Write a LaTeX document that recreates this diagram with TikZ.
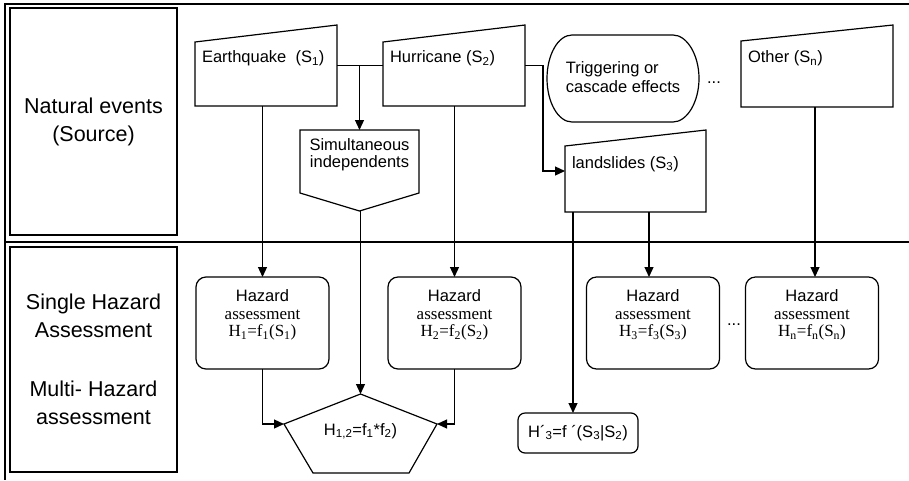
\documentclass[tikz,border=0pt]{standalone}
\usepackage{fontspec}
\setmainfont{Liberation Sans}
\newfontfamily\serifont{Liberation Serif}
\usetikzlibrary{arrows.meta,calc}
\newcommand\mkmanual[2]{\draw[shp] (#1.south west) -- (#1.south east) -- (#1.north east) -- ([yshift=-#2pt]#1.north west) -- cycle;}
\tikzset{
  frame/.style={line width=1.4pt},
  shp/.style={line width=1.2pt},
  ghost/.style={draw=none,inner sep=0pt,outer sep=0pt},
  conn/.style={line width=1.2pt},
  arr/.style={conn,-{Triangle[length=10pt,width=9pt]}},
  labelbox/.style={draw,line width=1.3pt,inner sep=0pt,outer sep=0pt,align=center,
    font=\fontsize{21.5}{28}\selectfont},
  txt/.style={inner sep=0pt,outer sep=0pt,font=\fontsize{16.5}{17}\selectfont},
  hbox/.style={draw,line width=1.2pt,rounded corners=10pt,minimum width=133pt,minimum height=92pt,inner sep=0pt,outer sep=0pt},
  htext/.style={inner sep=0pt,outer sep=0pt,align=center,font=\fontsize{16.5}{17.5}\selectfont},
}
\newcommand\sfn{\serifont\fontsize{17}{17.5}\selectfont}
\begin{document}
\begin{tikzpicture}[x=1pt,y=-1pt]
\useasboundingbox (0,0) rectangle (909,480);
% outer frame
\coordinate (ftl) at (5,4);
\coordinate (ftr) at (909,4);
\coordinate (fbl) at (5,480);
\coordinate (fml) at (5,242);
\coordinate (fmr) at (909,242);
\draw[frame] (ftr) -- (ftl) -- (fbl);
\draw[frame] (fml) -- (fmr);
% left labels
\node[labelbox,minimum width=167pt,minimum height=227pt] (lb1) at (93.5,121.5) {Natural events\\(Source)};
\node[labelbox,minimum width=167pt,minimum height=225pt] (lb2) at (93.5,359.5) {Single Hazard\\Assessment\\[31pt]Multi- Hazard\\assessment};
% sources
\node[ghost,minimum width=142pt,minimum height=81pt] (eq) at (266,65.5) {};
\mkmanual{eq}{17}
\node[txt,anchor=base west] (eqt) at (202,62.5) {Earthquake\ \ (S\textsubscript{1})};
\node[ghost,minimum width=142pt,minimum height=81pt] (hu) at (454,65.5) {};
\mkmanual{hu}{17}
\node[txt,anchor=base west] (hut) at (390,62.5) {Hurricane (S\textsubscript{2})};
\node[ghost,minimum width=152pt,minimum height=82pt] (ot) at (817,66) {};
\mkmanual{ot}{16}
\node[txt,anchor=base west] (ott) at (748,62.5) {Other (S\textsubscript{n})};
\node[ghost,minimum width=141pt,minimum height=82pt] (ls) at (635.5,171) {};
\mkmanual{ls}{16}
\node[txt,anchor=base west] (lst) at (572,168) {landslides (S\textsubscript{3})};
% simultaneous
\node[ghost,minimum width=119pt,minimum height=81pt] (sim) at (359.5,170.5) {};
\draw[shp] (sim.north west) -- (sim.north east) -- ([yshift=18pt]sim.south east) -- (sim.south) -- ([yshift=18pt]sim.south west) -- cycle;
\node[txt,align=center] (simt) at (359.5,155) {Simultaneous\\independents};
% triggering (terminator shape)
\draw[shp] (572,35) -- (673,35) .. controls (687,35) and (699,55) .. (699,78.5)
  .. controls (699,102) and (687,122) .. (673,122) -- (572,122)
  .. controls (558,122) and (547,102) .. (547,78.5)
  .. controls (547,55) and (558,35) .. (572,35) -- cycle;
\node[txt,align=left,font=\fontsize{16.5}{18.5}\selectfont] (trig) at (623,77) {Triggering or\\cascade effects};
\node[txt,anchor=base] (dots1) at (714,83) {...};
% hazard boxes
\node[hbox] (h1) at (262.5,323) {};
\node[hbox] (h2) at (454.5,323) {};
\node[hbox] (h3) at (653,323) {};
\node[hbox] (hn) at (812,323) {};
\node[htext] (h1t) at ($(h1)+(0,-8)$) {Hazard\\{\sfn assessment}\\{\sfn H\textsubscript{1}=f\textsubscript{1}(S\textsubscript{1})}};
\node[htext] (h2t) at ($(h2)+(0,-8)$) {Hazard\\{\sfn assessment}\\{\sfn H\textsubscript{2}=f\textsubscript{2}(S\textsubscript{2})}};
\node[htext] (h3t) at ($(h3)+(0,-8)$) {Hazard\\{\sfn assessment}\\{\sfn H\textsubscript{3}=f\textsubscript{3}(S\textsubscript{3})}};
\node[htext] (hnt) at ($(hn)+(0,-8)$) {Hazard\\{\sfn assessment}\\{\sfn H\textsubscript{n}=f\textsubscript{n}(S\textsubscript{n})}};
\node[txt,anchor=base] (dots2) at (734,325) {...};
% pentagon
\node[ghost,minimum width=153pt,minimum height=79pt] (pent) at (360.5,433.5) {};
\coordinate (pl) at ($(pent.north west)+(0,30)$);
\coordinate (pr) at ($(pent.north east)+(0,30)$);
\coordinate (pbl) at ($(pent.south west)+(29,0)$);
\coordinate (pbr) at ($(pent.south east)+(-28,0)$);
\draw[shp] (pent.north) -- (pr) -- (pbr) -- (pbl) -- (pl) -- cycle;
\node[txt,anchor=base] (pentt) at (360.5,435) {H\textsubscript{1,2}=f\textsubscript{1}*f\textsubscript{2})};
% conditional
\node[draw,line width=1.2pt,rounded corners=7pt,minimum width=120pt,minimum height=40pt,inner sep=0pt,txt] (hp) at (578,433) {H´\textsubscript{3}=f ´(S\textsubscript{3}|S\textsubscript{2})};
% connector entry points
\coordinate (h3in) at ($(h3.north)+(-4,0)$);
\coordinate (hnin) at ($(hn.north)+(3,0)$);
\coordinate (hpin) at ($(hp.north)+(-5,0)$);
% connectors
\draw[conn] (eq.east) -- (hu.west);
\draw[arr] (sim.north |- eq.east) -- (sim.north);
\draw[arr] (hu.east) -- ++(18,0) |- (ls.west);
\draw[arr] (h1.north |- eq.south) -- (h1.north);
\draw[arr] (h2.north |- hu.south) -- (h2.north);
\draw[arr] (h3in |- ls.south) -- (h3in);
\draw[arr] (hnin |- ot.south) -- (hnin);
\draw[arr] (hpin |- ls.south) -- (hpin);
\draw[arr] (pent.north |- sim.south) -- (pent.north);
\draw[arr] (h1.south) |- (pl);
\draw[arr] (h2.south) |- (pr);
\end{tikzpicture}
\end{document}
